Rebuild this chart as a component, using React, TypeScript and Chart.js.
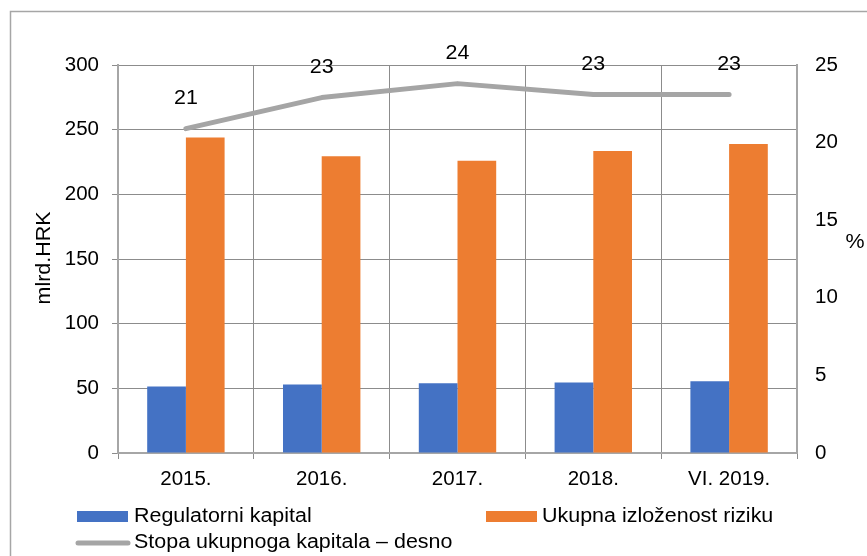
import React, { useEffect, useRef } from "react";
import { Chart, registerables } from "chart.js";

Chart.register(...registerables);

const categories = ["2015.", "2016.", "2017.", "2018.", "VI. 2019."];
const regulatorniKapital = [51.5, 53, 54, 54.5, 55.5];
const ukupnaIzlozenost = [244, 229.5, 226, 233.5, 239];
const stopaKapitala = [20.9, 22.9, 23.8, 23.1, 23.1];
const leftTicksMax = 300;
const rightTicksMax = 25;

const seriesNames = ["Regulatorni kapital", "Ukupna izloženost riziku", "Stopa ukupnoga kapitala – desno"];
const colors = ["#4472c4", "#ed7d31", "#a5a5a5"];
const FONT = "'Liberation Sans', Arial, sans-serif";

function wideText(ctx: any, text: string, x: number, y: number, align: string) {
  ctx.save();
  ctx.translate(x, y);
  ctx.scale(1.1, 1);
  ctx.textAlign = align;
  ctx.fillText(text, 0, 0);
  ctx.restore();
}

const extrasPlugin = {
  id: "extras",
  afterDatasetsDraw(chart: any) {
    const ctx = chart.ctx;
    ctx.save();
    const meta = chart.getDatasetMeta(2);
    ctx.font = `19.5px ${FONT}`;
    ctx.fillStyle = "#000";
    ctx.textBaseline = "middle";
    meta.data.forEach((pt: any, i: number) => {
      wideText(ctx, String(Math.round(stopaKapitala[i])), pt.x, pt.y - 30, "center");
    });
    ctx.restore();
  },
  afterDraw(chart: any) {
    const ctx = chart.ctx;
    ctx.save();
    // frame
    ctx.strokeStyle = "#a6a6a6";
    ctx.lineWidth = 1.5;
    ctx.beginPath();
    ctx.moveTo(10.5, 560);
    ctx.lineTo(10.5, 11.5);
    ctx.lineTo(870, 11.5);
    ctx.stroke();

    ctx.fillStyle = "#000";
    ctx.font = `19.5px ${FONT}`;
    ctx.textBaseline = "middle";
    // left axis title
    ctx.save();
    ctx.translate(45, 258);
    ctx.rotate(-Math.PI / 2);
    ctx.scale(1.1, 1);
    ctx.textAlign = "center";
    ctx.fillText("mlrd.HRK", 0, 0);
    ctx.restore();
    // right axis title
    wideText(ctx, "%", 855, 243, "center");

    // legend
    ctx.fillStyle = colors[0];
    ctx.fillRect(77, 511, 51, 11);
    ctx.fillStyle = colors[1];
    ctx.fillRect(486, 511, 51, 11);
    ctx.strokeStyle = colors[2];
    ctx.lineWidth = 5;
    ctx.lineCap = "round";
    ctx.beginPath();
    ctx.moveTo(78, 543);
    ctx.lineTo(128, 543);
    ctx.stroke();
    ctx.fillStyle = "#000";
    wideText(ctx, seriesNames[0], 134, 517, "left");
    wideText(ctx, seriesNames[1], 542, 517, "left");
    wideText(ctx, seriesNames[2], 134, 543, "left");
    ctx.restore();
  },
};

export default function App() {
  const ref = useRef<HTMLCanvasElement | null>(null);
  useEffect(() => {
    if (!ref.current) return;
    const tickFont = { family: FONT, size: 20.5 };
    const chart = new Chart(ref.current, {
      type: "bar",
      data: {
        labels: categories,
        datasets: [
          {
            type: "bar",
            label: seriesNames[0],
            data: regulatorniKapital,
            backgroundColor: colors[0],
            categoryPercentage: 0.57,
            barPercentage: 1,
            yAxisID: "y",
            order: 2,
          },
          {
            type: "bar",
            label: seriesNames[1],
            data: ukupnaIzlozenost,
            backgroundColor: colors[1],
            categoryPercentage: 0.57,
            barPercentage: 1,
            yAxisID: "y",
            order: 2,
          },
          {
            type: "line",
            label: seriesNames[2],
            data: stopaKapitala,
            borderColor: colors[2],
            backgroundColor: colors[2],
            borderWidth: 5,
            borderCapStyle: "round",
            borderJoinStyle: "round",
            pointRadius: 0,
            tension: 0,
            yAxisID: "y1",
            order: 1,
          } as any,
        ],
      },
      options: {
        responsive: false,
        animation: false,
        events: [],
        layout: { padding: { top: 65, left: 0, right: 0, bottom: 0 } },
        plugins: {
          legend: { display: false },
          tooltip: { enabled: false },
          title: { display: false },
        },
        scales: {
          x: {
            grid: { display: true, offset: true, color: "#8c8c8c", lineWidth: 1, tickLength: 6 },
            border: { color: "#a6a6a6", width: 2 },
            ticks: { font: tickFont, color: "#000", padding: 8, maxRotation: 0 },
            afterFit: (s: any) => {
              s.height = 103;
            },
          },
          y: {
            position: "left",
            min: 0,
            max: leftTicksMax,
            ticks: { stepSize: 50, font: tickFont, color: "#000", padding: 13 },
            grid: { color: "#8c8c8c", lineWidth: 1, tickLength: 6 },
            border: { color: "#a6a6a6", width: 2 },
            afterFit: (s: any) => {
              s.width = 118;
            },
          },
          y1: {
            position: "right",
            min: 0,
            max: rightTicksMax,
            ticks: { stepSize: 5, font: tickFont, color: "#000", padding: 18 },
            grid: { drawOnChartArea: false, drawTicks: false },
            border: { display: true, color: "#a6a6a6", width: 2 },
            afterFit: (s: any) => {
              s.width = 70;
            },
          },
        },
      } as any,
      plugins: [extrasPlugin],
    });
    return () => chart.destroy();
  }, []);
  return (
    <div style={{ position: "absolute", left: 0, top: 0, width: 867, height: 556, background: "#fff" }}>
      <canvas ref={ref} width={867} height={556} style={{ display: "block" }} />
    </div>
  );
}
